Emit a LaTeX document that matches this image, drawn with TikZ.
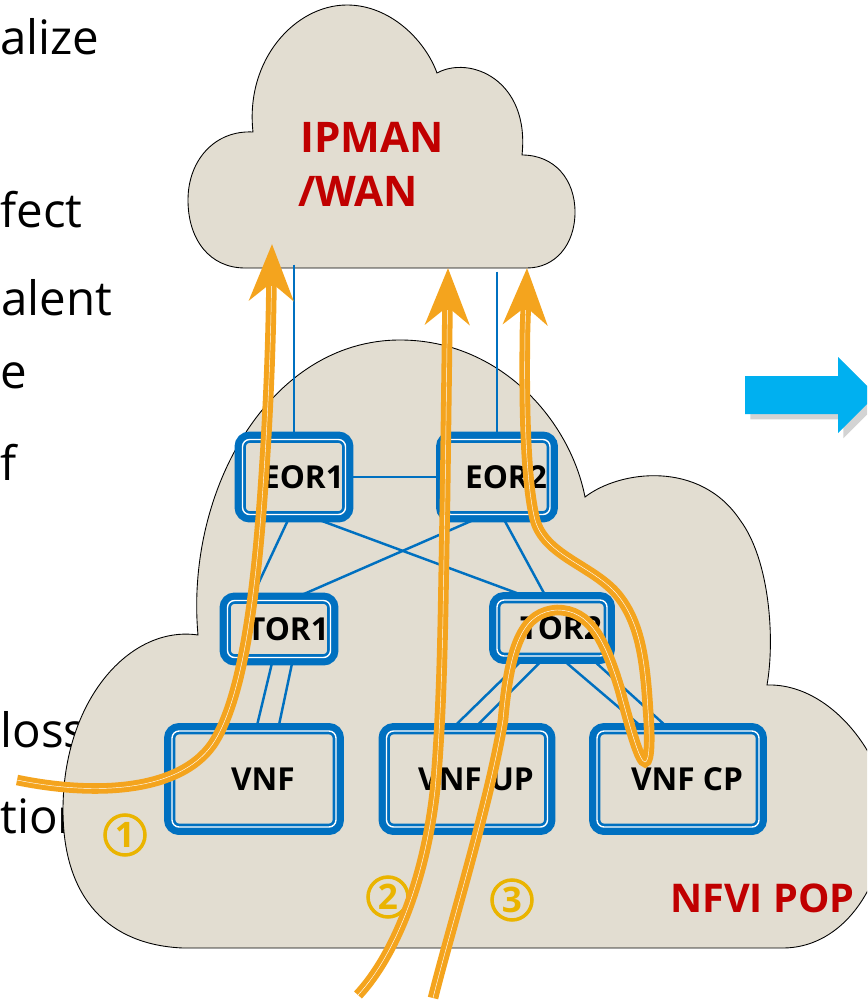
\documentclass[tikz,border=0pt]{standalone}
\usepackage{fontspec}
\setmainfont{Open Sans}
\usepackage{tikz}
\usetikzlibrary{arrows.meta,calc,shadows}
\usepackage{xcolor}
\definecolor{cloudfill}{RGB}{226,221,209}
\definecolor{netblue}{RGB}{0,112,192}
\definecolor{floworange}{RGB}{244,164,30}
\definecolor{numgold}{RGB}{234,180,0}
\definecolor{popred}{RGB}{192,0,0}
\definecolor{nextblue}{RGB}{0,176,240}
\tikzstyle{cloud} = [fill=cloudfill, draw=black, line width=0.5pt]
\tikzstyle{slidetext} = [anchor=base west, inner sep=0pt, font=\fontsize{27}{32}\selectfont]
\tikzstyle{redtext} = [anchor=base west, inner sep=0pt, text=popred, font=\bfseries\fontsize{24}{28}\selectfont]
\tikzstyle{box} = [rectangle, rounded corners=4pt, fill=cloudfill, draw=netblue, line width=1.5pt, double=white, double distance=0.8pt, preaction={draw=netblue, line width=9pt}, inner sep=0pt, font=\bfseries\fontsize{18}{21}\selectfont, execute at begin node={\hspace*{0.36cm}}]
\tikzstyle{link} = [draw=netblue, line width=1.4pt, shorten <=2pt, shorten >=2pt]
\tikzstyle{flow} = [draw=floworange, line width=6pt, -{Stealth[length=32pt, width=25pt, inset=10pt]}, postaction={draw=white, line width=0.25pt, shorten >=24pt, -}]
\tikzstyle{numcircle} = [circle, draw=numgold, line width=2pt, text=numgold, minimum size=0.8cm, inner sep=0pt, font=\bfseries\fontsize{20}{22}\selectfont]

\begin{document}
\begin{tikzpicture}[x=0.02cm, y=-0.02cm]
\useasboundingbox (0,0) rectangle (867,1000);
\clip (0,0) rectangle (867,1000);

% Slide text on the left
\node[slidetext] (t1) at (0,55) {alize};
\node[slidetext] (t2) at (0,228) {fect};
\node[slidetext] (t3) at (1,315) {alent};
\node[slidetext] (t4) at (0,388) {e};
\node[slidetext] (t5) at (0,480) {f};
\node[slidetext] (t6) at (0,747) {loss};
\node[slidetext] (t7) at (0,833) {tion};

% IPMAN/WAN cloud
\path[cloud] (245,268) .. controls (210,268) and (188,240) .. (188,200)
    .. controls (188,160) and (215,130) .. (253,132)
    .. controls (245,60) and (295,5) .. (347,5)
    .. controls (390,5) and (425,40) .. (437,73)
    .. controls (470,55) and (530,80) .. (522,155)
    .. controls (555,155) and (575,180) .. (575,212)
    .. controls (575,245) and (555,268) .. (527,268) -- cycle;
\node[redtext] (ipman) at (300,153) {IPMAN};
\node[redtext] (wan) at (298,207) {/WAN};

% NFVI POP cloud
\path[cloud] (183,948) .. controls (110,945) and (63,900) .. (63,810)
    .. controls (63,700) and (130,625) .. (198,635)
    .. controls (185,490) and (270,340) .. (400,340)
    .. controls (500,340) and (570,420) .. (585,497)
    .. controls (620,470) and (700,460) .. (740,520)
    .. controls (770,560) and (775,640) .. (767,685)
    .. controls (835,683) and (890,765) .. (888,820)
    .. controls (880,900) and (835,948) .. (783,948) -- cycle;
\node[redtext, font=\bfseries\fontsize{22.5}{26}\selectfont] (pop) at (670,912) {NFVI POP};

% Switches and VNFs
\node[box, minimum width=2.06cm, minimum height=1.5cm] (eor1) at (294,477) {EOR1};
\node[box, minimum width=2.12cm, minimum height=1.5cm] (eor2) at (497,477) {EOR2};
\node[box, minimum width=2.06cm, minimum height=1.14cm] (tor1) at (279,629) {TOR1};
\node[box, minimum width=2.2cm, minimum height=1.12cm] (tor2) at (552,628) {TOR2};
\node[box, minimum width=3.28cm, minimum height=1.92cm] (vnf) at (254,779) {VNF};
\node[box, minimum width=3.22cm, minimum height=1.92cm] (vnfup) at (467,779) {VNF UP};
\node[box, minimum width=3.24cm, minimum height=1.92cm] (vnfcp) at (678,779) {VNF CP};

% Links
\coordinate (wanl) at (294,261);
\coordinate (wanr) at (497,268);
\draw[link] (wanl) -- (wanl |- eor1.north);
\draw[link] (wanr) -- (wanr |- eor2.north);
\draw[link] (eor1.east) -- (eor2.west);
\draw[link] ($(eor1.south)+(-4,0)$) -- ($(tor1.north)+(-28,0)$);
\draw[link] ($(eor1.south)+(14,0)$) -- ($(tor2.north)+(-20,0)$);
\draw[link] ($(eor2.south)+(-14,0)$) -- ($(tor1.north)+(13,0)$);
\draw[link] ($(eor2.south)+(5,0)$) -- ($(tor2.north)+(-5,0)$);
\draw[link] ($(tor1.south)+(-6,0)$) -- ($(vnf.north)+(2,0)$);
\draw[link] ($(tor1.south)+(14,0)$) -- ($(vnf.north)+(24,0)$);
\draw[link] ($(tor2.south)+(-27,0)$) -- ($(vnfup.north)+(-16,0)$);
\draw[link] ($(tor2.south)+(-7,0)$) -- ($(vnfup.north)+(6,0)$);
\draw[link] ($(tor2.south)+(8,0)$) -- ($(vnfcp.north)+(-33,0)$);
\draw[link] ($(tor2.south)+(38,0)$) -- ($(vnfcp.north)+(-8,0)$);

% Flow numbers
\node[numcircle] (n1) at (125,835) {1};
\node[numcircle] (n2) at (388,897) {2};
\node[numcircle] (n3) at (512,900) {3};

% Traffic flows
\coordinate (in1) at (17,780);
\coordinate (out1) at (272,244);
\coordinate (in2) at (358,995);
\coordinate (out2) at (448,268);
\coordinate (in3) at (433,998);
\coordinate (out3) at (527,268);
\draw[flow] (in1) .. controls (100,797) and (180,790) .. (212,745)
    .. controls (250,690) and (260,540) .. (266,440)
    .. controls (270,370) and (271,320) .. (out1);
\draw[flow] (in2) .. controls (395,955) and (425,880) .. (435,790)
    .. controls (443,700) and (443,600) .. (445,500) -- (out2);
\draw[flow] (in3) .. controls (450,930) and (490,800) .. (503,720)
    .. controls (510,640) and (525,612) .. (557,610)
    .. controls (590,610) and (605,640) .. (620,690)
    .. controls (632,735) and (640,762) .. (645,762)
    .. controls (650,762) and (650,735) .. (648,710)
    .. controls (645,660) and (640,620) .. (615,592)
    .. controls (590,565) and (545,555) .. (535,520)
    .. controls (525,480) and (524,400) .. (525,330) -- (out3);

% Next step arrow
\fill[nextblue, drop shadow={shadow xshift=3pt, shadow yshift=-3pt, opacity=0.35}]
    (745,376) -- (838,376) -- (838,357) -- (876,395) -- (838,433) -- (838,414) -- (745,414) -- cycle;
\end{tikzpicture}
\end{document}
